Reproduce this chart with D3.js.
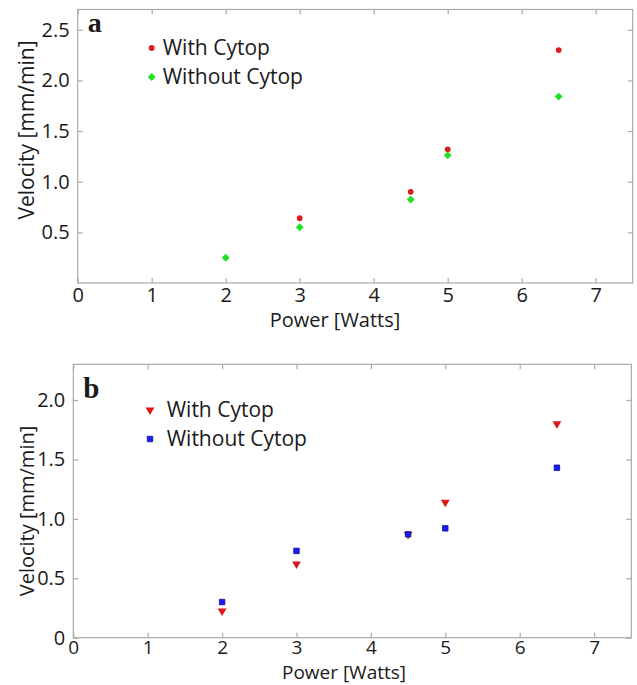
<!DOCTYPE html>
<html>
<head>
<meta charset="utf-8">
<script src="https://cdn.jsdelivr.net/npm/d3@7"></script>
<style>
  body { margin: 0; background: #fff; }
  text { font-family: "Open Sans", "Noto Sans", sans-serif; fill: #1a1a1a; }
</style>
</head>
<body>
<div id="chart"></div>
<script>
// power values (x) shared by both panels
var powerA = [2, 3, 4.5, 5, 6.5];
var powerB = [2, 3, 4.5, 5, 6.5];

// panel a : velocity (mm/min)
var withCytopA = [null, 0.64, 0.90, 1.32, 2.30];
var withoutCytopA = [0.25, 0.55, 0.825, 1.26, 1.84];

// panel b : velocity (mm/min)
var withCytopB = [0.225, 0.62, 0.87, 1.14, 1.80];
var withoutCytopB = [0.30, 0.73, 0.87, 0.92, 1.43];

var xTicks = [0, 1, 2, 3, 4, 5, 6, 7];
var yTicksA = [0.5, 1.0, 1.5, 2.0, 2.5];
var yTicksB = [0, 0.5, 1.0, 1.5, 2.0];
var legendLabels = ['With Cytop', 'Without Cytop'];

var svgWidth = 637;
var svgHeight = 685;

var svg = d3.select('#chart')
    .append('svg')
    .attr('width', svgWidth)
    .attr('height', svgHeight);

var frameColor = '#aaaaaa';

// symbol shapes
var circleSym = d3.symbol().type(d3.symbolCircle).size(26);
var diamondSym = d3.symbol().type(d3.symbolDiamond2).size(40);
var squareSym = d3.symbol().type(d3.symbolSquare).size(30);
var triSym = d3.symbol().type(d3.symbolTriangle).size(34);

function drawPanel(opt) {
    var g = svg.append('g');

    var x = d3.scaleLinear().domain([0, 7.5]).range([opt.left, opt.right]);
    var y = d3.scaleLinear().domain([0, opt.yMax]).range([opt.bottom, opt.top]);

    // frame
    g.append('rect')
        .attr('x', opt.left)
        .attr('y', opt.top)
        .attr('width', opt.right - opt.left)
        .attr('height', opt.bottom - opt.top)
        .attr('fill', 'none')
        .attr('stroke', frameColor)
        .attr('stroke-width', 1.2);

    // inner ticks on all sides
    var tickLen = 5;
    var bottomAxis = d3.axisBottom(x).tickValues(xTicks).tickSize(-tickLen).tickPadding(opt.xPad).tickFormat(d3.format('d'));
    var topAxis = d3.axisTop(x).tickValues(xTicks).tickSize(-tickLen).tickFormat('');
    var leftAxis = d3.axisLeft(y).tickValues(opt.yTicks).tickSize(-tickLen).tickPadding(8)
        .tickFormat(function (d) { return d === 0 ? '0' : d3.format('.1f')(d); });
    var rightAxis = d3.axisRight(y).tickValues(opt.yTicks).tickSize(-tickLen).tickFormat('');

    var axes = [
        g.append('g').attr('transform', `translate(0, ${opt.bottom})`).call(bottomAxis),
        g.append('g').attr('transform', `translate(0, ${opt.top})`).call(topAxis),
        g.append('g').attr('transform', `translate(${opt.left}, 0)`).call(leftAxis),
        g.append('g').attr('transform', `translate(${opt.right}, 0)`).call(rightAxis)
    ];
    axes.forEach(function (a) {
        a.select('.domain').remove();
        a.selectAll('line').attr('stroke', frameColor).attr('stroke-width', 1.2);
        a.selectAll('text').style('font-size', '20px').attr('fill', '#1a1a1a');
    });
    axes[0].selectAll('text').style('font-size', opt.xTickSize);

    // axis titles
    g.append('text')
        .attr('x', opt.xTitleX)
        .attr('y', opt.xTitleY)
        .attr('text-anchor', 'middle')
        .style('font-size', opt.xTitleSize)
        .text('Power [Watts]');

    g.append('text')
        .attr('transform', `translate(${opt.yTitleX}, ${opt.yTitleY}) rotate(-90)`)
        .attr('text-anchor', 'middle')
        .style('font-size', opt.yTitleSize)
        .text('Velocity [mm/min]');

    // panel letter
    g.append('text')
        .attr('x', opt.left + 10)
        .attr('y', opt.letterY)
        .style('font-family', '"Liberation Serif", "DejaVu Serif", serif')
        .style('font-weight', 'bold')
        .style('font-size', opt.letterSize)
        .attr('fill', '#000')
        .text(opt.letter);

    // data points
    var s1 = opt.powers.map(function (p, i) { return { x: p, y: opt.series1[i] }; })
        .filter(function (d) { return d.y !== null; });
    var s2 = opt.powers.map(function (p, i) { return { x: p, y: opt.series2[i] }; })
        .filter(function (d) { return d.y !== null; });

    g.selectAll('.s1')
        .data(s1)
        .enter()
        .append('path')
        .attr('class', 's1')
        .attr('d', opt.sym1)
        .attr('transform', d => `translate(${x(d.x)}, ${y(d.y)}) rotate(${opt.rot1})`)
        .attr('fill', opt.color1);

    g.selectAll('.s2')
        .data(s2)
        .enter()
        .append('path')
        .attr('class', 's2')
        .attr('d', opt.sym2)
        .attr('transform', d => `translate(${x(d.x)}, ${y(d.y)})`)
        .attr('fill', opt.color2)
        .attr('stroke', opt.stroke2)
        .attr('stroke-width', 0.8);

    // legend
    var leg = g.append('g');
    [0, 1].forEach(function (i) {
        var ly = opt.legY[i];
        leg.append('path')
            .attr('d', i === 0 ? opt.sym1 : opt.sym2)
            .attr('transform', `translate(${opt.legX}, ${ly}) rotate(${i === 0 ? opt.rot1 : 0})`)
            .attr('fill', i === 0 ? opt.color1 : opt.color2)
            .attr('stroke', i === 0 ? 'none' : opt.stroke2)
            .attr('stroke-width', 0.8);
        leg.append('text')
            .attr('x', opt.legTextX)
            .attr('y', ly + 7)
            .style('font-size', '21px')
            .text(legendLabels[i]);
    });
}

drawPanel({
    letter: 'a', letterSize: '28px',
    left: 77.7, right: 632.7, top: 9.5, bottom: 283,
    yMax: 2.7, yTicks: yTicksA, xPad: 5, xTickSize: '20px',
    powers: powerA, series1: withCytopA, series2: withoutCytopA,
    sym1: circleSym, sym2: diamondSym, rot1: 0,
    color1: '#dd1c1c', color2: '#22e022', stroke2: 'none',
    xTitleX: 335, xTitleY: 327, xTitleSize: '20px',
    yTitleX: 34, yTitleY: 130, yTitleSize: '21px',
    letterY: 32,
    legX: 151.7, legTextX: 162.7, legY: [48, 77]
});

drawPanel({
    letter: 'b', letterSize: '29px',
    left: 73.3, right: 631.3, top: 364.3, bottom: 637.7,
    yMax: 2.3, yTicks: yTicksB, xPad: 3, xTickSize: '19px',
    powers: powerB, series1: withCytopB, series2: withoutCytopB,
    sym1: triSym, sym2: squareSym, rot1: 180,
    color1: '#e01515', color2: '#1a1aff', stroke2: '#10108a',
    xTitleX: 344, xTitleY: 679, xTitleSize: '19px',
    yTitleX: 34, yTitleY: 511, yTitleSize: '20px',
    letterY: 398,
    legX: 150, legTextX: 166.7, legY: [410, 439]
});
</script>
</body>
</html>
